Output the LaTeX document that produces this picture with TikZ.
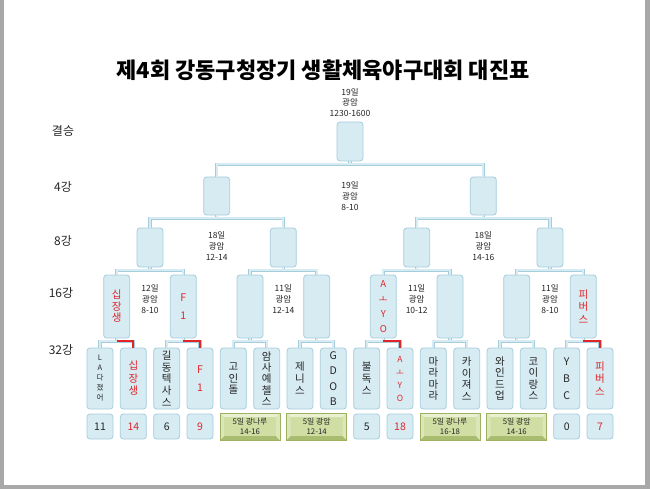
\documentclass[tikz,border=0pt]{standalone}
\usepackage{fontspec}
\newfontfamily\kr{Noto Sans CJK KR}
\usetikzlibrary{positioning,calc}
\definecolor{boxfill}{HTML}{D7EBF3}
\definecolor{boxline}{HTML}{A6CDDB}
\definecolor{winred}{HTML}{E0262B}
\definecolor{txt}{HTML}{262626}
\definecolor{bevmid}{HTML}{D0DDA3}
\definecolor{bevtop}{HTML}{EAF0D2}
\definecolor{bevside}{HTML}{DCE6B8}
\definecolor{bevbot}{HTML}{A9BD70}
\definecolor{bevline}{HTML}{9CB060}
\definecolor{frame}{HTML}{A8A8A8}

\begin{document}
\begin{tikzpicture}[x=1pt,y=-1pt,
  every node/.style={font=\kr, text=txt},
  box/.style={draw=boxline, fill=boxfill, line width=0.8pt, rounded corners=3pt,
    minimum width=26pt, inner sep=0pt, align=center},
  link/.style={draw=boxline, line width=0.6pt, double=boxfill, double distance=2pt},
  winline/.style={draw=winred, line width=2pt},
  bevel/.style={draw=bevline, fill=bevmid, line width=0.5pt, minimum width=60pt,
    minimum height=27pt, inner sep=0pt, align=center,
    font={\kr\fontsize{7.8}{10}\selectfont},
    path picture={
      \fill[bevtop] (path picture bounding box.north west) -- (path picture bounding box.north east)
        -- ([shift={(-4pt,-4pt)}]path picture bounding box.north east)
        -- ([shift={(4pt,-4pt)}]path picture bounding box.north west) -- cycle;
      \fill[bevbot] (path picture bounding box.south west) -- (path picture bounding box.south east)
        -- ([shift={(-4pt,4pt)}]path picture bounding box.south east)
        -- ([shift={(4pt,4pt)}]path picture bounding box.south west) -- cycle;
      \fill[bevside] (path picture bounding box.north west) -- ([shift={(4pt,-4pt)}]path picture bounding box.north west)
        -- ([shift={(4pt,4pt)}]path picture bounding box.south west) -- (path picture bounding box.south west) -- cycle;
      \fill[bevside] (path picture bounding box.north east) -- ([shift={(-4pt,-4pt)}]path picture bounding box.north east)
        -- ([shift={(-4pt,4pt)}]path picture bounding box.south east) -- (path picture bounding box.south east) -- cycle;
    }},
  date/.style={align=center, font={\kr\fontsize{8.5}{10.8}\selectfont}},
  stage/.style={font={\kr\fontsize{12}{14}\selectfont}}
]
\useasboundingbox (0,0) rectangle (650,489);
\fill[white] (0,0) rectangle (650,489);
% window frame
\fill[frame] (0,0) rectangle (4,489);
\fill[frame] (645,0) rectangle (650,489);
\fill[frame] (0,485) rectangle (650,489);

\node[font={\kr\bfseries\fontsize{22}{26}\selectfont}, text=black] (title) at (323,70) {제4회 강동구청장기 생활체육야구대회 대진표};

% round labels
\node[stage] (l1) at (63,131) {결승};
\node[stage] (l2) at (63,187) {4강};
\node[stage] (l3) at (63,241) {8강};
\node[stage] (l4) at (61,293) {16강};
\node[stage] (l5) at (61,350) {32강};

% upper rounds
\node[box, minimum height=39pt] (fin) at (350,141.5) {};
\node[box, minimum height=38pt] (s1) at (216.667,196) {};
\node[box, minimum height=38pt] (s2) at (483.333,196) {};
\foreach \i in {1,...,4}
  \node[box, minimum height=39pt] (q\i) at ({150+133.333*(\i-1)},247.5) {};
\foreach \nm/\cl/\fs/\ls [count=\i] in {{십\\장\\생}/winred/10.5/11.5,{F\\1}/winred/10.5/18,{}/txt/10/11,{}/txt/10/11,
    {A\\ㅗ\\Y\\O}/winred/9.5/15,{}/txt/10/11,{}/txt/10/11,{피\\버\\스}/winred/10.5/12.5}
  \node[box, minimum height=63pt, text=\cl, font={\kr\fontsize{\fs}{\ls}\selectfont}] (r\i) at ({116.667+66.667*(\i-1)},306.5) {\nm};

% teams
\foreach \nm/\cl/\fs/\ls [count=\i] in {{L\\A\\다\\졌\\어}/txt/7.5/10,{십\\장\\생}/winred/10.5/12.5,{길\\동\\텍\\사\\스}/txt/10.5/11.7,
    {F\\1}/winred/10.5/18,{고\\인\\돌}/txt/10.5/11.5,{암\\사\\예\\첼\\스}/txt/10.5/11.3,{제\\니\\스}/txt/10.5/12,
    {G\\D\\O\\B}/txt/10.5/15.6,{불\\독\\스}/txt/10.5/12,{A\\ㅗ\\Y\\O}/winred/8.5/13,{마\\라\\마\\라}/txt/10.5/11.5,
    {카\\이\\져\\스}/txt/10.5/11.5,{와\\인\\드\\업}/txt/10.5/11.5,{코\\이\\랑\\스}/txt/10.5/11.5,{Y\\B\\C}/txt/10.5/17,
    {피\\버\\스}/winred/10.5/12.5}
  \node[box, minimum height=61pt, text=\cl, font={\kr\fontsize{\fs}{\ls}\selectfont}] (t\i) at ({100+33.333*(\i-1)},378.5) {\nm};

% scores and dates
\foreach \col/\val/\cl in {1/11/txt,2/14/winred,3/6/txt,4/9/winred,9/5/txt,10/18/winred,15/0/txt,16/7/winred}
  \node[box, minimum height=25pt, text=\cl, font={\kr\fontsize{10.5}{12}\selectfont}] (sc\col) at ({100+33.333*(\col-1)},426.5) {\val};
\foreach \col/\lbl [count=\j] in {5/{5일 광나루\\14-16},7/{5일 광암\\12-14},11/{5일 광나루\\16-18},13/{5일 광암\\14-16}}
  \node[bevel] (g\j) at ({100+33.333*(\col-0.5)},426.5) {\lbl};

\node[date] (d0) at (350,102.5) {19일\\광암\\1230-1600};
\node[date] (d1) at (350,196) {19일\\광암\\8-10};
\node[date] (d2) at (216.667,246) {18일\\광암\\12-14};
\node[date] (d3) at (483.333,246) {18일\\광암\\14-16};
\node[date] (d4) at (150,299) {12일\\광암\\8-10};
\node[date] (d5) at (283.333,299) {11일\\광암\\12-14};
\node[date] (d6) at (416.667,299) {11일\\광암\\10-12};
\node[date] (d7) at (550,299) {11일\\광암\\8-10};

% connectors
\foreach \p/\a/\b in {fin/s1/s2,s1/q1/q2,s2/q3/q4,q1/r1/r2,q2/r3/r4,q3/r5/r6,q4/r7/r8,
    r1/t1/t2,r2/t3/t4,r3/t5/t6,r4/t7/t8,r5/t9/t10,r6/t11/t12,r7/t13/t14,r8/t15/t16} {
  \draw[link] (\p.south) -- ([yshift=-3pt]\p.south);
  \draw[link] (\a.north) |- ([yshift=-3pt]\p.south) -| (\b.north);
}
\foreach \p/\w in {r1/t2,r2/t4,r5/t10,r8/t16}
  \draw[winline] ([yshift=-3pt]\p.south) -| (\w.north);
\end{tikzpicture}
\end{document}
